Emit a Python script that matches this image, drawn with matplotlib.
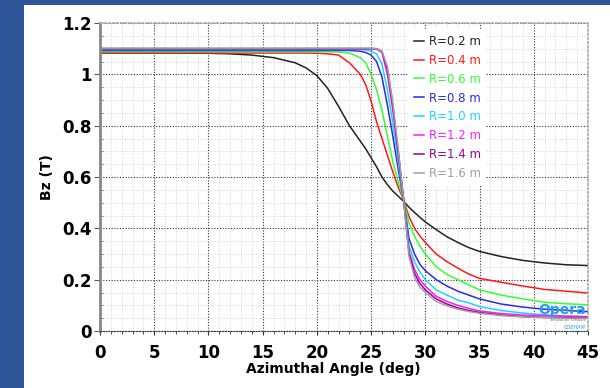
import numpy as np
import matplotlib
matplotlib.use('Agg')
import matplotlib.pyplot as plt
from matplotlib.patches import Rectangle
from matplotlib.ticker import MultipleLocator

# azimuthal angle (deg), shared by all curves
angle = [0, 5, 10, 12, 14, 16, 18, 19, 20, 21, 22, 23, 24, 24.5, 25, 25.5, 26, 26.5,
         27, 27.5, 28, 28.5, 29, 29.5, 30, 31, 32, 33, 34, 35, 37, 39, 41, 43, 45]

bz_r02 = [1.083, 1.083, 1.082, 1.080, 1.075, 1.065, 1.045, 1.025, 0.995, 0.945, 0.875, 0.800,
          0.740, 0.710, 0.675, 0.640, 0.600, 0.570, 0.545, 0.525, 0.505, 0.482, 0.462, 0.443,
          0.425, 0.395, 0.367, 0.345, 0.325, 0.310, 0.290, 0.275, 0.265, 0.258, 0.255]
bz_r04 = [1.083, 1.083, 1.083, 1.083, 1.083, 1.083, 1.083, 1.083, 1.082, 1.080, 1.075, 1.045,
          1.000, 0.960, 0.895, 0.815, 0.750, 0.685, 0.620, 0.560, 0.510, 0.445, 0.400, 0.370,
          0.345, 0.300, 0.270, 0.245, 0.222, 0.205, 0.190, 0.175, 0.162, 0.155, 0.148]
bz_r06 = [1.088, 1.088, 1.088, 1.088, 1.088, 1.088, 1.088, 1.088, 1.088, 1.088, 1.087, 1.083,
          1.065, 1.045, 1.000, 0.940, 0.860, 0.760, 0.660, 0.580, 0.510, 0.420, 0.370, 0.330,
          0.300, 0.250, 0.220, 0.200, 0.180, 0.160, 0.140, 0.125, 0.112, 0.106, 0.102]
bz_r08 = [1.093, 1.093, 1.093, 1.093, 1.093, 1.093, 1.093, 1.093, 1.093, 1.093, 1.093, 1.093,
          1.090, 1.085, 1.075, 1.050, 0.990, 0.880, 0.760, 0.630, 0.510, 0.360, 0.300, 0.260,
          0.235, 0.200, 0.175, 0.155, 0.140, 0.125, 0.105, 0.093, 0.085, 0.080, 0.075]
bz_r10 = [1.097, 1.097, 1.097, 1.097, 1.097, 1.097, 1.097, 1.097, 1.097, 1.097, 1.097, 1.097,
          1.097, 1.095, 1.090, 1.080, 1.040, 0.940, 0.810, 0.660, 0.510, 0.330, 0.270, 0.230,
          0.200, 0.160, 0.140, 0.120, 0.110, 0.095, 0.080, 0.070, 0.063, 0.058, 0.055]
bz_r12 = [1.100, 1.100, 1.100, 1.100, 1.100, 1.100, 1.100, 1.100, 1.100, 1.100, 1.100, 1.100,
          1.100, 1.100, 1.100, 1.098, 1.085, 1.000, 0.860, 0.690, 0.510, 0.310, 0.240, 0.200,
          0.175, 0.135, 0.115, 0.100, 0.088, 0.078, 0.068, 0.062, 0.060, 0.058, 0.056]
bz_r14 = [1.100, 1.100, 1.100, 1.100, 1.100, 1.100, 1.100, 1.100, 1.100, 1.100, 1.100, 1.100,
          1.100, 1.100, 1.100, 1.100, 1.090, 1.020, 0.880, 0.700, 0.510, 0.300, 0.225, 0.185,
          0.160, 0.125, 0.105, 0.090, 0.080, 0.072, 0.062, 0.056, 0.053, 0.052, 0.052]
bz_r16 = [1.102, 1.102, 1.102, 1.102, 1.102, 1.102, 1.102, 1.102, 1.102, 1.102, 1.102, 1.102,
          1.102, 1.102, 1.102, 1.100, 1.090, 1.030, 0.890, 0.710, 0.510, 0.290, 0.210, 0.170,
          0.150, 0.115, 0.098, 0.085, 0.076, 0.069, 0.060, 0.055, 0.052, 0.050, 0.050]

labels = ['R=0.2 m', 'R=0.4 m', 'R=0.6 m', 'R=0.8 m', 'R=1.0 m', 'R=1.2 m', 'R=1.4 m', 'R=1.6 m']
series = [bz_r02, bz_r04, bz_r06, bz_r08, bz_r10, bz_r12, bz_r14, bz_r16]
colors = ['#222222', '#ff1a1a', '#33ff33', '#2a2ae0', '#19d5ff', '#ff1aff', '#960096', '#a0a0a0']

fig = plt.figure(figsize=(6.1, 3.88), dpi=100)
fig.patch.set_facecolor('#2E5597')
fig.add_artist(Rectangle((24/610, 0), 1 - 24/610, 383/388, transform=fig.transFigure,
                         facecolor='white', edgecolor='none', zorder=-1))
ax = fig.add_axes([100/610, 57/388, 488/610, 308/388])

for ys, lab, c in zip(series, labels, colors):
    ax.plot(angle, ys, '-', color=c, lw=1.1, label=lab)

ax.set_xlim(0, 45); ax.set_ylim(0, 1.2)
ax.xaxis.set_major_locator(MultipleLocator(5)); ax.xaxis.set_minor_locator(MultipleLocator(1))
ax.yaxis.set_major_locator(MultipleLocator(0.2)); ax.yaxis.set_minor_locator(MultipleLocator(0.05))
ax.set_yticks(np.arange(0, 1.21, 0.2))
ax.set_yticklabels(['0', '0.2', '0.4', '0.6', '0.8', '1', '1.2'])

ax.grid(True, which='major', color='#333333', lw=0.8, ls=(0, (1, 1.5)))
ax.grid(True, which='minor', color='#d6d6d6', lw=0.7, ls=(0, (1, 1.5)))
ax.set_axisbelow(True)

ax.tick_params(axis='x', which='major', length=3, pad=6, labelsize=12, color='#333333')
ax.tick_params(axis='x', which='minor', length=2, color='#333333')
ax.tick_params(axis='y', which='major', length=4, pad=2, labelsize=12, color='#555555')
ax.tick_params(axis='y', which='minor', length=2, direction='in', color='#777777')
for lab in ax.get_xticklabels() + ax.get_yticklabels():
    lab.set_fontweight('bold')

ax.spines['left'].set_color('#888888'); ax.spines['left'].set_linewidth(2)
ax.spines['bottom'].set_color('#333333'); ax.spines['bottom'].set_linestyle((0, (1, 1.5)))
for s in ['top', 'right']:
    ax.spines[s].set_color('#aaaaaa'); ax.spines[s].set_linestyle((0, (1, 1.5)))
    ax.spines[s].set_linewidth(1.2)

ax.set_xlabel('Azimuthal Angle (deg)', fontsize=10, fontweight='bold')
ax.set_ylabel('Bz (T)', fontsize=10, fontweight='bold')
ax.xaxis.set_label_coords(0.478, -0.1)
ax.yaxis.set_label_coords(-0.095, 0.5)

leg = ax.legend(loc='upper left', bbox_to_anchor=(0.62, 1.0), fontsize=8.5, frameon=True,
                facecolor='white', edgecolor='none', framealpha=1, labelcolor='linecolor',
                handlelength=0.8, handletextpad=0.4, labelspacing=0.5, borderpad=0.5)

ax.text(0.995, 0.045, 'Opera', transform=ax.transAxes, ha='right', va='bottom',
        fontsize=10, fontweight='bold', color='#1e9ff0')
ax.text(0.995, 0.035, 'Simulation Software', transform=ax.transAxes, ha='right', va='center',
        fontsize=2.5, color='#666666')
ax.text(0.995, 0.012, 'COBHAM', transform=ax.transAxes, ha='right', va='center',
        fontsize=3.5, color='#1e9ff0', style='italic')

plt.savefig('out.png', dpi=100, facecolor=fig.get_facecolor())
